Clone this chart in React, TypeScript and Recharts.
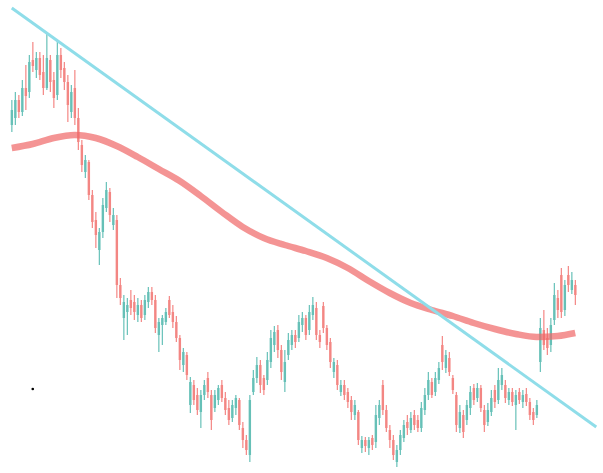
import React from 'react';
import { ComposedChart, Bar, Line, XAxis, YAxis, ReferenceDot } from 'recharts';

// values are read as depth below the top of the chart, so the value axis is reversed
const opens = [
  125, 118, 100, 112, 88, 92, 60, 70, 58, 72,
  88, 60, 80, 95, 55, 68, 82, 112, 88, 118,
  145, 172, 162, 195, 220, 250, 232, 208, 192, 225,
  220, 285, 318, 312, 300, 302, 315, 305, 315, 302,
  292, 300, 335, 325, 322, 300, 312, 322, 338, 365,
  355, 405, 385, 395, 412, 395, 378, 395, 408, 400,
  385, 398, 408, 418, 408, 400, 428, 440, 455, 392,
  378, 365, 378, 380, 362, 345, 330, 350, 382, 355,
  345, 335, 338, 325, 318, 330, 315, 308, 335, 306,
  328, 342, 372, 365, 392, 385, 392, 400, 415, 412,
  448, 440, 448, 438, 442, 418, 385, 410, 430, 440,
  462, 450, 438, 422, 430, 415, 420, 428, 410, 395,
  382, 392, 380, 345, 368, 358, 378, 395, 428, 415,
  420, 408, 388, 398, 388, 410, 422, 412, 390, 400,
  385, 385, 400, 392, 405, 392, 402, 394, 402, 412,
  415, 362, 330, 338, 345, 320, 298, 275, 310, 275, 290, 285,
];
const closes = [
  110, 100, 112, 88, 96, 62, 66, 58, 75, 88,
  58, 82, 98, 55, 70, 82, 105, 92, 118, 142,
  165, 160, 195, 222, 235, 232, 205, 190, 215, 215,
  285, 298, 302, 305, 308, 312, 305, 318, 300, 292,
  300, 328, 322, 318, 312, 315, 322, 338, 360, 352,
  375, 382, 400, 410, 395, 385, 392, 420, 395, 388,
  398, 410, 420, 405, 398, 425, 440, 450, 400, 378,
  365, 385, 390, 360, 338, 332, 350, 372, 362, 340,
  335, 342, 322, 318, 335, 312, 305, 335, 342, 328,
  345, 362, 362, 385, 385, 395, 402, 412, 405, 440,
  440, 446, 440, 445, 415, 405, 410, 428, 440, 455,
  450, 435, 425, 428, 418, 425, 428, 408, 395, 380,
  395, 378, 368, 362, 355, 372, 390, 425, 412, 432,
  405, 392, 400, 388, 408, 425, 410, 398, 402, 380,
  375, 398, 392, 402, 395, 400, 395, 402, 415, 420,
  405, 328, 345, 348, 325, 295, 310, 312, 285, 285, 280, 295,
];
const highs = [
  100, 92, 95, 80, 65, 55, 42, 52, 52, 55,
  32, 55, 72, 40, 48, 62, 75, 85, 70, 108,
  140, 155, 160, 190, 212, 228, 198, 182, 188, 208,
  215, 278, 295, 298, 290, 295, 298, 300, 295, 287,
  287, 295, 318, 315, 308, 296, 305, 316, 335, 348,
  352, 377, 380, 388, 390, 380, 372, 390, 390, 385,
  380, 392, 400, 400, 395, 398, 422, 435, 395, 370,
  357, 360, 375, 352, 330, 326, 325, 345, 350, 333,
  330, 330, 315, 312, 315, 305, 297, 302, 330, 302,
  325, 338, 358, 360, 380, 380, 388, 396, 400, 410,
  436, 437, 437, 435, 405, 400, 380, 405, 425, 435,
  445, 430, 420, 415, 412, 410, 415, 402, 388, 372,
  378, 372, 362, 336, 350, 352, 375, 392, 405, 410,
  400, 386, 384, 383, 385, 405, 403, 390, 385, 368,
  368, 380, 388, 388, 390, 388, 390, 388, 398, 408,
  400, 318, 310, 328, 318, 283, 290, 268, 280, 266, 272, 280,
];
const lows = [
  132, 125, 118, 116, 110, 98, 72, 78, 80, 95,
  90, 92, 108, 100, 78, 90, 122, 118, 125, 150,
  172, 178, 200, 228, 248, 265, 238, 212, 222, 230,
  298, 305, 340, 335, 315, 320, 322, 322, 320, 308,
  305, 333, 352, 345, 325, 318, 328, 342, 370, 372,
  380, 413, 405, 415, 428, 400, 398, 430, 412, 405,
  402, 415, 425, 422, 415, 430, 448, 455, 462, 395,
  383, 393, 395, 385, 368, 352, 358, 380, 392, 360,
  350, 348, 342, 332, 340, 335, 320, 340, 348, 333,
  350, 368, 378, 390, 396, 400, 408, 420, 420, 445,
  453, 452, 455, 450, 448, 425, 415, 432, 448, 460,
  467, 455, 442, 435, 433, 430, 432, 432, 415, 400,
  398, 396, 384, 370, 373, 376, 394, 432, 433, 438,
  425, 415, 405, 402, 412, 432, 426, 416, 408, 404,
  390, 403, 405, 406, 430, 404, 408, 406, 420, 425,
  418, 372, 350, 355, 352, 325, 318, 318, 316, 292, 294, 305,
];

// moving average read at every sixth bar
const maIndex = [0, 6, 12, 18, 24, 30, 36, 42, 48, 54, 60, 66, 72, 78, 84, 90, 96, 102, 108, 114, 120, 126, 132, 138, 144, 150, 156, 161];
const maValue = [148, 144, 138, 135, 138, 146, 157, 169, 181, 196, 212, 227, 238, 245, 251, 258, 268, 281, 293, 303, 310, 316, 323, 329, 334, 337, 336, 333];

// trend line end points
const trendIndex = [0, 167];
const trendValue = [8, 427];

const strayIndex = 6;
const strayValue = 389;

const SLOTS = 168;

const data = Array.from({ length: SLOTS }, (_, i) => {
  const row: any = { i };
  if (i < opens.length) {
    row.open = opens[i];
    row.close = closes[i];
    row.high = Math.min(highs[i], opens[i], closes[i]);
    row.low = Math.max(lows[i], opens[i], closes[i]);
  }
  const m = maIndex.indexOf(i);
  if (m >= 0) row.ma = maValue[m];
  const t = trendIndex.indexOf(i);
  if (t >= 0) row.trend = trendValue[t];
  return row;
});

const Candle = (props: any) => {
  const { x, y, width, height, payload } = props;
  if (payload.open == null) return null;
  const top = Math.min(y, y + height);
  const span = Math.abs(height);
  const range = payload.low - payload.high;
  const ratio = range > 0 ? span / range : 0;
  const py = (v: number) => top + (v - payload.high) * ratio;
  const cx = x + width / 2;
  const up = payload.close < payload.open;
  const color = up ? '#26a69a' : '#ef5350';
  const bodyTop = Math.min(py(payload.open), py(payload.close));
  const bodyH = Math.max(1, Math.abs(py(payload.open) - py(payload.close)));
  return (
    <g opacity={0.7}>
      <line x1={cx} x2={cx} y1={top} y2={top + span} stroke={color} strokeWidth={1.2} />
      <rect x={cx - 1.2} y={bodyTop} width={2.4} height={bodyH} fill={color} />
    </g>
  );
};

const App: React.FC = () => {
  return (
    <div style={{ position: 'absolute', left: 0, top: 0, width: 603, height: 473, background: '#fff' }}>
      <ComposedChart
        width={603}
        height={473}
        data={data}
        margin={{ top: 0, right: 5, left: 10, bottom: 0 }}
      >
        <XAxis dataKey="i" hide />
        <YAxis hide reversed domain={[0, 473]} />
        <Line
          dataKey="ma"
          type="monotone"
          stroke="#f06767"
          strokeOpacity={0.7}
          strokeWidth={6.5}
          dot={false}
          connectNulls
          isAnimationActive={false}
        />
        <Bar
          dataKey={(d: any) => (d.open == null ? null : [d.low, d.high])}
          shape={<Candle />}
          isAnimationActive={false}
        />
        <Line
          dataKey="trend"
          type="linear"
          stroke="#8fdde9"
          strokeWidth={3}
          dot={false}
          connectNulls
          isAnimationActive={false}
        />
        <ReferenceDot x={strayIndex} y={strayValue} r={1.3} fill="#000" stroke="none" />
      </ComposedChart>
    </div>
  );
};

export default App;
